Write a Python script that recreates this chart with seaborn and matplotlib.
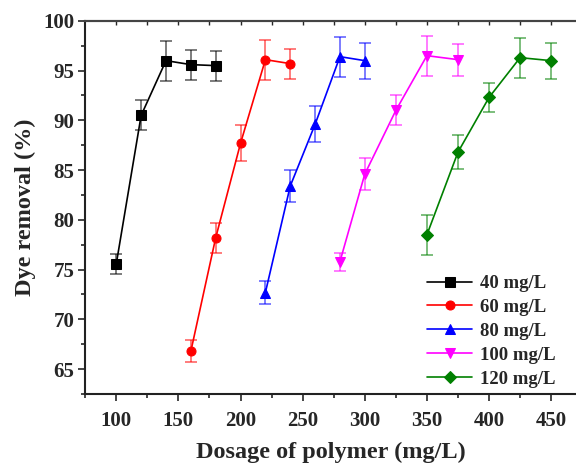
import matplotlib
matplotlib.use("Agg")
import matplotlib.pyplot as plt
import seaborn as sns
import pandas as pd
import numpy as np
from matplotlib.ticker import MultipleLocator

sns.set_theme(style="white")
plt.rcParams['font.family'] = ['Liberation Serif', 'DejaVu Serif']
plt.rcParams['font.weight'] = 'bold'

labels = ["40 mg/L", "60 mg/L", "80 mg/L", "100 mg/L", "120 mg/L"]
colors = ["black", "red", "blue", "magenta", "green"]
markers = ["s", "o", "^", "v", "D"]

x40 = [100, 120, 140, 160, 180]
y40 = [75.6, 90.5, 96.0, 95.6, 95.5]
e40 = [1.0, 1.5, 2.0, 1.5, 1.5]
x60 = [160, 180, 200, 220, 240]
y60 = [66.8, 78.2, 87.7, 96.1, 95.7]
e60 = [1.1, 1.5, 1.8, 2.0, 1.5]
x80 = [220, 240, 260, 280, 300]
y80 = [72.7, 83.4, 89.6, 96.4, 96.0]
e80 = [1.2, 1.6, 1.8, 2.0, 1.8]
x100 = [280, 300, 325, 350, 375]
y100 = [75.8, 84.6, 91.0, 96.5, 96.1]
e100 = [0.9, 1.6, 1.5, 2.0, 1.6]
x120 = [350, 375, 400, 425, 450]
y120 = [78.5, 86.8, 92.3, 96.3, 96.0]
e120 = [2.0, 1.7, 1.5, 2.0, 1.8]

xs = [x40, x60, x80, x100, x120]
ys = [y40, y60, y80, y100, y120]
es = [e40, e60, e80, e100, e120]

fig = plt.figure(figsize=(5.76, 4.63), dpi=100)
ax = fig.add_axes([0.148, 0.149, 0.852, 0.806])

for lab, c, m, x, y, e in zip(labels, colors, markers, xs, ys, es):
    df = pd.DataFrame({"x": x, "y": y})
    ax.errorbar(x, y, yerr=e, fmt='none', ecolor=c, elinewidth=1.2,
                capsize=4, capthick=1.2, alpha=0.6, zorder=2)
    ms = 6 if m == "D" else 6.5
    sns.lineplot(data=df, x="x", y="y", ax=ax, color=c, marker=m,
                 markersize=ms, markeredgecolor=c, linewidth=1.2,
                 label=lab, zorder=3)

ax.set_xlim(75, 470)
ax.set_ylim(62.5, 100)
ax.xaxis.set_major_locator(MultipleLocator(50))
ax.xaxis.set_minor_locator(MultipleLocator(25))
ax.yaxis.set_major_locator(MultipleLocator(5))
ax.yaxis.set_minor_locator(MultipleLocator(2.5))
ax.set_xticks(np.arange(100, 451, 50))

ax.tick_params(axis='x', which='major', direction='out', length=5, width=1.2,
               bottom=True, top=False, labelsize=15, pad=7)
ax.tick_params(axis='x', which='minor', direction='out', length=3, width=1.2,
               bottom=True, top=False)
ax.tick_params(axis='y', which='major', direction='out', length=5, width=1.2,
               left=True, labelsize=15, pad=3)
ax.tick_params(axis='y', which='minor', direction='out', length=3, width=1.2,
               left=True)
sec = ax.secondary_xaxis('top')
sec.set_xticks(np.arange(100, 451, 25))
sec.tick_params(direction='in', length=3, width=1, labeltop=False)
sec.spines['top'].set_linewidth(1.5)
sec.spines['top'].set_color('#444444')

for lbl in ax.get_xticklabels() + ax.get_yticklabels():
    lbl.set_fontweight('bold')

for s in ['left', 'bottom']:
    ax.spines[s].set_linewidth(1.5)
    ax.spines[s].set_color('#222222')
ax.spines['right'].set_visible(False)
ax.spines['top'].set_linewidth(1.5)
ax.spines['top'].set_color('#444444')

ax.set_xlabel("Dosage of polymer (mg/L)", fontsize=17.5, fontweight='bold', labelpad=8)
ax.set_ylabel("Dye removal (%)", fontsize=17.5, fontweight='bold', labelpad=5)

leg = ax.legend(loc='lower right', frameon=False, fontsize=13.5, handlelength=2.4,
                handletextpad=0.4, borderaxespad=0.3, labelspacing=0.36,
                bbox_to_anchor=(0.985, -0.018))
for t in leg.get_texts():
    t.set_fontweight('bold')

fig.savefig("out.png", dpi=100)
